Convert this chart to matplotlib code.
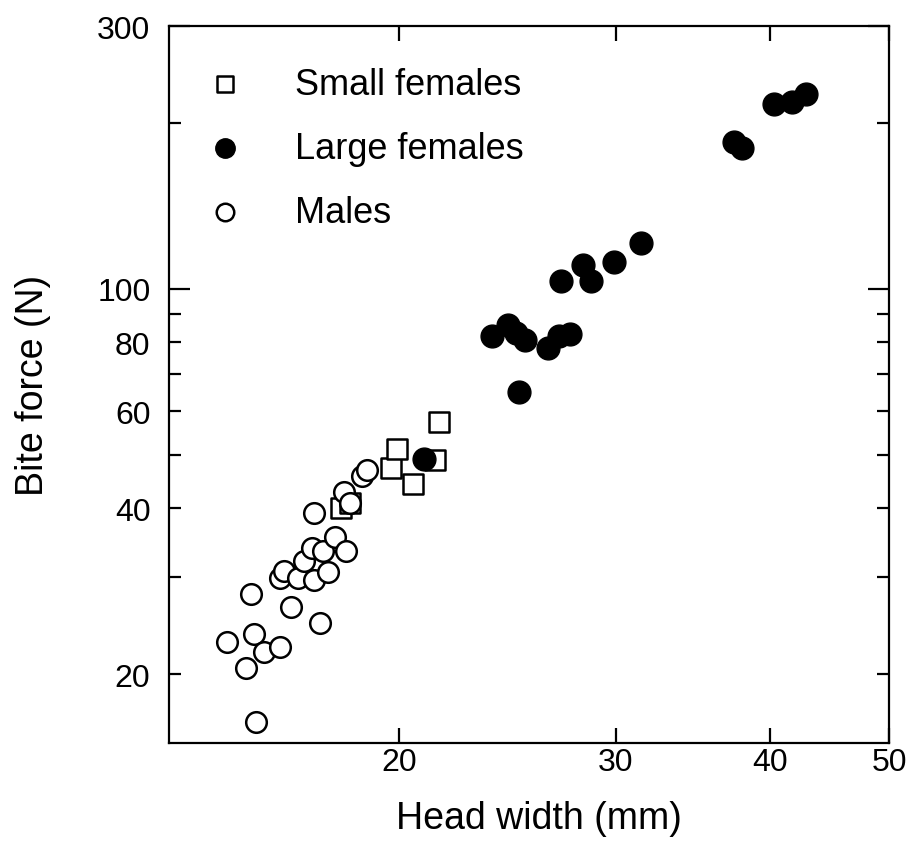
import matplotlib
matplotlib.use("Agg")
import matplotlib.pyplot as plt

plt.rcParams["font.family"] = ["Liberation Sans", "DejaVu Sans"]

# head width (mm), bite force (N)
small_f_hw = [17.96, 18.26, 19.71, 19.93, 20.53, 21.38, 21.56]
small_f_bf = [40.1, 40.9, 47.4, 51.2, 44.3, 49.0, 57.3]

males_hw = [14.50, 15.02, 15.24, 15.32, 15.16, 15.54, 16.00, 16.33, 17.24, 16.02,
            16.12, 16.57, 17.07, 17.52, 16.76, 17.00, 17.34, 17.76, 18.13, 17.07,
            18.05, 18.24, 18.67, 18.85]
males_bf = [22.9, 20.5, 23.7, 16.4, 28.0, 21.9, 22.4, 26.5, 24.8, 29.9,
            30.8, 29.9, 29.6, 30.7, 32.1, 33.9, 33.5, 35.5, 33.4, 39.2,
            42.9, 40.9, 45.7, 47.0]

large_f_hw = [20.94, 23.81, 24.53, 24.87, 25.29, 26.43, 26.98, 27.51, 25.02, 27.08,
              28.20, 28.62, 29.90, 31.43, 37.38, 37.97, 40.32, 41.72, 42.78]
large_f_bf = [49.05, 82.0, 85.9, 83.2, 80.9, 78.3, 82.0, 82.8, 64.9, 103.5,
              110.7, 103.5, 112.0, 121.2, 185.0, 180.5, 216.3, 218.8, 226.2]

x_ticks = [20, 30, 40, 50]
y_major = [100, 300]
y_minor = [20, 30, 40, 50, 60, 70, 80, 90, 200]
y_minor_labels = ["20", "", "40", "", "60", "", "80", "", ""]

fig = plt.figure(figsize=(9.11, 8.45), dpi=100)
ax = fig.add_axes([0.185, 0.1195, 0.791, 0.8485])

ax.set_xscale("log")
ax.set_yscale("log")

ax.scatter(small_f_hw, small_f_bf, marker="s", s=190, facecolors="white",
           edgecolors="black", linewidths=1.8, label="Small females", zorder=3)
ax.scatter(males_hw, males_bf, marker="o", s=220, facecolors="white",
           edgecolors="black", linewidths=1.8, label="Males", zorder=4)
ax.scatter(large_f_hw, large_f_bf, marker="o", s=270, facecolors="black",
           edgecolors="black", linewidths=1.0, label="Large females", zorder=5)

ax.set_xlim(13, 50)
ax.set_ylim(15, 300)

ax.xaxis.set_minor_locator(matplotlib.ticker.NullLocator())
ax.set_xticks(x_ticks, labels=[str(v) for v in x_ticks])
ax.set_yticks(y_major, labels=[str(v) for v in y_major])
ax.set_yticks(y_minor, labels=y_minor_labels, minor=True)

for s in ax.spines.values():
    s.set_linewidth(1.6)

ax.tick_params(axis="both", which="both", direction="in", top=True, right=True,
               labelsize=23, width=1.6)
ax.tick_params(axis="x", which="major", length=11, pad=3)
ax.tick_params(axis="y", which="major", length=15, pad=13)
ax.tick_params(axis="y", which="minor", length=8.5, pad=13)

ax.set_xlabel("Head width (mm)", fontsize=27)
ax.set_ylabel("Bite force (N)", fontsize=27)
ax.xaxis.set_label_coords(0.514, -0.079)
ax.yaxis.set_label_coords(-0.163, 0.5)

handles, labels = ax.get_legend_handles_labels()
order = [0, 2, 1]
ax.legend([handles[i] for i in order], [labels[i] for i in order],
          loc="upper left", frameon=False, fontsize=26, handlelength=1.0,
          handletextpad=1.45, labelspacing=0.80, borderpad=0,
          borderaxespad=0, markerscale=0.85,
          bbox_to_anchor=(0.053, 0.943))

fig.savefig("out.png", dpi=100)
